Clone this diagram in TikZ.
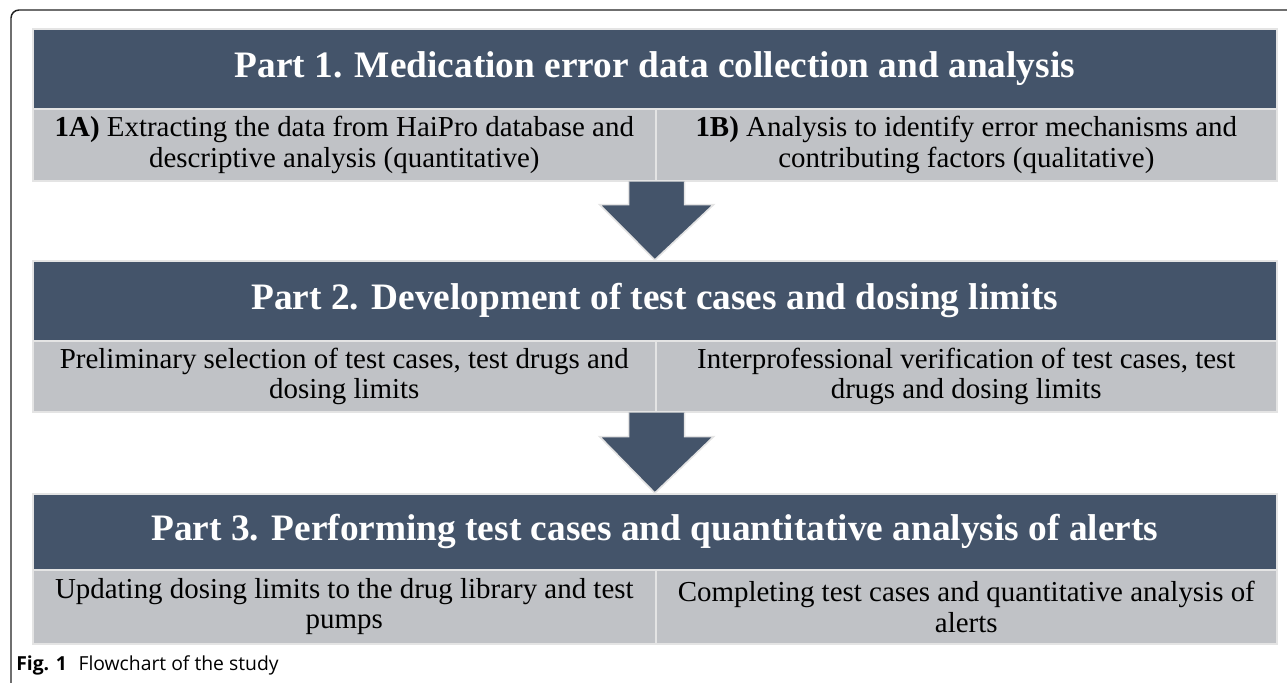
\documentclass[tikz,border=0pt]{standalone}
\usepackage{fontspec}
\setmainfont{Liberation Serif}
\newfontfamily\capfont{Open Sans}
\usetikzlibrary{calc}
\definecolor{hdrblue}{HTML}{44546A}
\definecolor{subgrey}{HTML}{C0C2C6}
\definecolor{edgegrey}{HTML}{E4E4E4}
\definecolor{framegrey}{HTML}{222222}
\begin{document}
\begin{tikzpicture}[x=0.75pt,y=-0.75pt,
  hdr/.style={fill=hdrblue, draw=edgegrey, line width=1.2pt, text=white,
    font=\fontsize{28}{32}\selectfont\bfseries, minimum width=1244*0.75pt,
    inner sep=0pt, anchor=north west},
  subbox/.style={fill=subgrey, draw=edgegrey, line width=1.2pt, text=black,
    font=\fontsize{21.7}{22.8}\selectfont, align=center, inner sep=0pt, anchor=north west},
  bigarrow/.style={fill=hdrblue, draw=edgegrey, line width=1.2pt, line join=miter}]
\useasboundingbox (0,0) rectangle (1287,682);
\clip (0,0) rectangle (1287,682);
% frame
\draw[framegrey, line width=1.1pt, rounded corners=6pt] (11,700) -- (11,10) -- (1300,10);
% Part 1
\node[hdr, minimum height=80*0.75pt] (h1) at (32,28) {Part 1. Medication error data collection and analysis};
\node[subbox, minimum width=623*0.75pt, minimum height=72*0.75pt] (s1a) at (32,108)
  {\textbf{1A)} Extracting the data from HaiPro database and\\ descriptive analysis (quantitative)};
\node[subbox, minimum width=621*0.75pt, minimum height=72*0.75pt] (s1b) at (655,108)
  {\textbf{1B)} Analysis to identify error mechanisms and\\ contributing factors (qualitative)};
% Part 2
\node[hdr, minimum height=80*0.75pt] (h2) at (32,260) {Part 2. Development of test cases and dosing limits};
\node[subbox, minimum width=623*0.75pt, minimum height=71*0.75pt] (s2a) at (32,340)
  {Preliminary selection of test cases, test drugs and\\ dosing limits};
\node[subbox, minimum width=621*0.75pt, minimum height=71*0.75pt] (s2b) at (655,340)
  {Interprofessional verification of test cases, test\\ drugs and dosing limits};
% Part 3
\node[hdr, minimum height=76*0.75pt] (h3) at (32,493) {Part 3. Performing test cases and quantitative analysis of alerts};
\node[subbox, minimum width=623*0.75pt, minimum height=74*0.75pt] (s3a) at (32,569)
  {Updating dosing limits to the drug library and test\\ pumps};
\node[subbox, minimum width=621*0.75pt, minimum height=74*0.75pt] (s3b) at (655,569)
  {Completing test cases and quantitative analysis of\\ alerts};
% arrows
\draw[bigarrow] ($(s1a.south east)+(-28,0)$) -- ($(s1a.south east)+(-28,23)$) -- ($(s1a.south east)+(-57,23)$)
  -- (h2.north) -- ($(s1a.south east)+(57,23)$) -- ($(s1a.south east)+(28,23)$) -- ($(s1a.south east)+(28,0)$);
\draw[bigarrow] ($(s2a.south east)+(-28,0)$) -- ($(s2a.south east)+(-28,24)$) -- ($(s2a.south east)+(-57,24)$)
  -- (h3.north) -- ($(s2a.south east)+(57,24)$) -- ($(s2a.south east)+(28,24)$) -- ($(s2a.south east)+(28,0)$);
% caption
\node[anchor=west, font=\capfont\fontsize{14.5}{17}\selectfont, inner sep=0pt] (cap) at (16,665)
  {\textbf{Fig. 1}\hspace{0.6em}Flowchart of the study};
\end{tikzpicture}
\end{document}
